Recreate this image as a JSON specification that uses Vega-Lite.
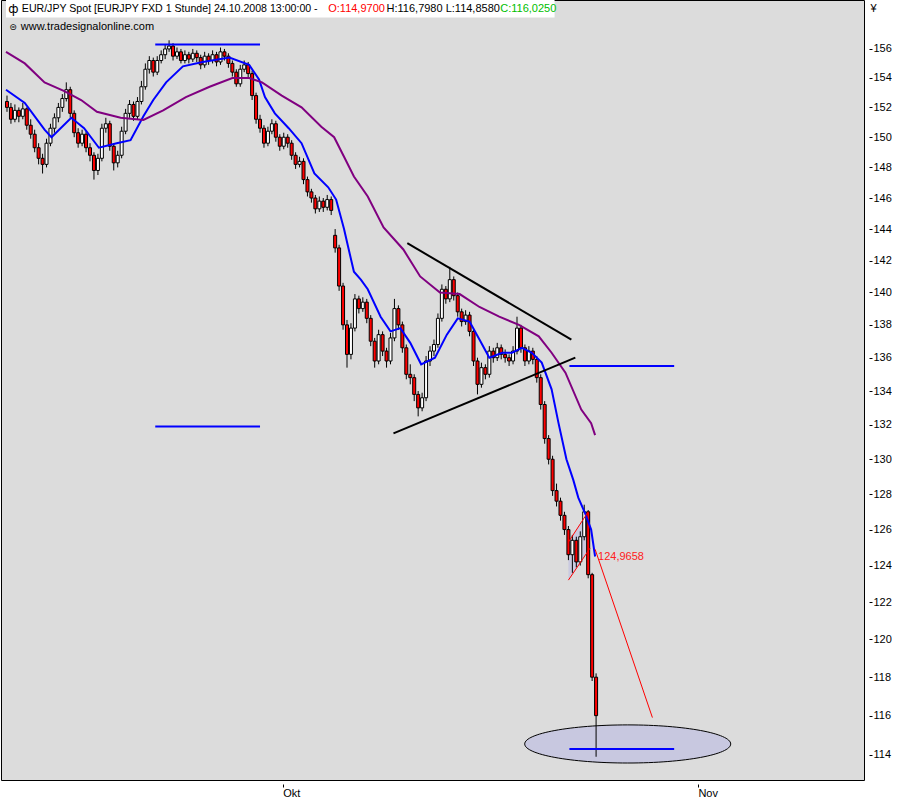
{
  "$schema": "https://vega.github.io/schema/vega-lite/v6.json",
  "width": 863,
  "height": 780,
  "padding": {"left": 1, "top": 0, "right": 0, "bottom": 0},
  "background": "white",
  "config": {"view": {"fill": "#dcdcdc", "stroke": "#000000", "strokeWidth": 1}, "font": "Liberation Sans"},
  "datasets": {
    "candles": [
      {"t":0,"o":152.4,"h":152.8,"l":151.7,"c":152.0},{"t":1,"o":152.0,"h":152.3,"l":150.9,"c":151.2},{"t":2,"o":151.2,"h":152.2,"l":151.0,"c":151.8},{"t":3,"o":151.8,"h":152.0,"l":151.0,"c":151.4},{"t":4,"o":151.4,"h":152.3,"l":151.2,"c":151.9},
      {"t":5,"o":151.9,"h":152.0,"l":150.5,"c":150.8},{"t":6,"o":150.8,"h":151.2,"l":149.9,"c":150.2},{"t":7,"o":150.2,"h":150.5,"l":149.0,"c":149.3},{"t":8,"o":149.3,"h":149.6,"l":148.2,"c":148.6},{"t":9,"o":148.6,"h":148.9,"l":147.6,"c":148.2},
      {"t":10,"o":148.2,"h":149.9,"l":148.0,"c":149.6},{"t":11,"o":149.6,"h":150.9,"l":149.4,"c":150.6},{"t":12,"o":150.6,"h":151.6,"l":150.3,"c":151.3},{"t":13,"o":151.3,"h":152.3,"l":151.0,"c":152.0},{"t":14,"o":152.0,"h":152.9,"l":151.7,"c":152.6},
      {"t":15,"o":152.6,"h":153.7,"l":152.4,"c":153.2},{"t":16,"o":153.2,"h":153.4,"l":151.3,"c":151.6},{"t":17,"o":151.6,"h":151.8,"l":150.0,"c":150.3},{"t":18,"o":150.3,"h":150.6,"l":149.3,"c":149.6},{"t":19,"o":149.6,"h":150.5,"l":149.4,"c":150.2},
      {"t":20,"o":150.2,"h":150.4,"l":149.0,"c":149.3},{"t":21,"o":149.3,"h":149.6,"l":148.4,"c":148.8},{"t":22,"o":148.8,"h":149.0,"l":147.2,"c":147.8},{"t":23,"o":147.8,"h":148.9,"l":147.5,"c":148.6},{"t":24,"o":148.6,"h":150.9,"l":148.4,"c":150.6},
      {"t":25,"o":150.6,"h":151.3,"l":150.3,"c":150.9},{"t":26,"o":150.9,"h":151.1,"l":149.1,"c":149.4},{"t":27,"o":149.4,"h":149.6,"l":147.8,"c":148.3},{"t":28,"o":148.3,"h":149.1,"l":148.0,"c":148.8},{"t":29,"o":148.8,"h":150.7,"l":148.6,"c":150.4},
      {"t":30,"o":150.4,"h":151.9,"l":150.2,"c":151.6},{"t":31,"o":151.6,"h":152.5,"l":151.3,"c":152.2},{"t":32,"o":152.2,"h":152.4,"l":151.1,"c":151.4},{"t":33,"o":151.4,"h":152.7,"l":151.2,"c":152.4},{"t":34,"o":152.4,"h":153.8,"l":152.2,"c":153.4},
      {"t":35,"o":153.4,"h":155.0,"l":153.2,"c":154.6},{"t":36,"o":154.6,"h":155.5,"l":154.3,"c":155.2},{"t":37,"o":155.2,"h":155.4,"l":154.1,"c":154.4},{"t":38,"o":154.4,"h":155.5,"l":154.2,"c":155.2},{"t":39,"o":155.2,"h":155.9,"l":155.0,"c":155.6},
      {"t":40,"o":155.6,"h":156.3,"l":155.3,"c":156.0},{"t":41,"o":156.0,"h":156.6,"l":155.8,"c":156.2},{"t":42,"o":156.2,"h":156.4,"l":155.2,"c":155.5},{"t":43,"o":155.5,"h":156.1,"l":155.3,"c":155.8},{"t":44,"o":155.8,"h":156.0,"l":155.0,"c":155.2},
      {"t":45,"o":155.2,"h":155.9,"l":155.0,"c":155.6},{"t":46,"o":155.6,"h":155.8,"l":155.0,"c":155.3},{"t":47,"o":155.3,"h":156.0,"l":155.1,"c":155.7},{"t":48,"o":155.7,"h":155.9,"l":155.1,"c":155.4},{"t":49,"o":155.4,"h":155.6,"l":154.6,"c":154.9},
      {"t":50,"o":154.9,"h":155.8,"l":154.7,"c":155.5},{"t":51,"o":155.5,"h":155.7,"l":154.9,"c":155.2},{"t":52,"o":155.2,"h":155.9,"l":155.0,"c":155.6},{"t":53,"o":155.6,"h":155.8,"l":154.8,"c":155.1},{"t":54,"o":155.1,"h":156.1,"l":154.9,"c":155.8},
      {"t":55,"o":155.8,"h":156.0,"l":155.2,"c":155.5},{"t":56,"o":155.5,"h":155.7,"l":154.7,"c":155.0},{"t":57,"o":155.0,"h":155.2,"l":154.1,"c":154.4},{"t":58,"o":154.4,"h":154.6,"l":153.4,"c":153.6},{"t":59,"o":153.6,"h":154.9,"l":153.4,"c":154.6},
      {"t":60,"o":154.6,"h":155.2,"l":154.4,"c":154.9},{"t":61,"o":154.9,"h":155.1,"l":154.0,"c":154.3},{"t":62,"o":154.3,"h":154.5,"l":152.5,"c":152.8},{"t":63,"o":152.8,"h":153.0,"l":150.9,"c":151.2},{"t":64,"o":151.2,"h":151.5,"l":150.3,"c":150.6},
      {"t":65,"o":150.6,"h":150.8,"l":149.3,"c":149.6},{"t":66,"o":149.6,"h":150.7,"l":149.4,"c":150.4},{"t":67,"o":150.4,"h":151.2,"l":150.2,"c":150.9},{"t":68,"o":150.9,"h":151.1,"l":149.7,"c":150.0},{"t":69,"o":150.0,"h":150.2,"l":149.1,"c":149.4},
      {"t":70,"o":149.4,"h":150.3,"l":149.2,"c":150.0},{"t":71,"o":150.0,"h":150.2,"l":149.3,"c":149.6},{"t":72,"o":149.6,"h":149.8,"l":148.5,"c":148.8},{"t":73,"o":148.8,"h":149.0,"l":147.9,"c":148.2},{"t":74,"o":148.2,"h":148.7,"l":148.0,"c":148.4},
      {"t":75,"o":148.4,"h":148.6,"l":146.9,"c":147.2},{"t":76,"o":147.2,"h":147.4,"l":146.1,"c":146.4},{"t":77,"o":146.4,"h":146.6,"l":145.7,"c":146.0},{"t":78,"o":146.0,"h":146.2,"l":145.0,"c":145.3},{"t":79,"o":145.3,"h":146.1,"l":145.1,"c":145.8},
      {"t":80,"o":145.8,"h":146.0,"l":145.1,"c":145.4},{"t":81,"o":145.4,"h":146.2,"l":145.2,"c":145.9},{"t":82,"o":145.9,"h":146.1,"l":144.9,"c":145.2},{"t":83,"o":143.6,"h":144.0,"l":142.5,"c":142.8},{"t":84,"o":142.8,"h":143.0,"l":140.1,"c":140.4},
      {"t":85,"o":140.4,"h":140.6,"l":137.7,"c":138.0},{"t":86,"o":138.0,"h":138.3,"l":135.4,"c":136.2},{"t":87,"o":136.2,"h":138.1,"l":135.9,"c":137.8},{"t":88,"o":137.8,"h":139.9,"l":137.6,"c":139.6},{"t":89,"o":139.6,"h":139.8,"l":138.7,"c":139.0},
      {"t":90,"o":139.0,"h":139.7,"l":138.8,"c":139.4},{"t":91,"o":139.4,"h":139.6,"l":138.1,"c":138.4},{"t":92,"o":138.4,"h":138.6,"l":136.7,"c":137.0},{"t":93,"o":137.0,"h":137.2,"l":135.4,"c":135.8},{"t":94,"o":135.8,"h":137.7,"l":135.6,"c":137.4},
      {"t":95,"o":137.4,"h":137.6,"l":136.1,"c":136.4},{"t":96,"o":136.4,"h":136.6,"l":135.4,"c":135.8},{"t":97,"o":135.8,"h":137.5,"l":135.6,"c":137.2},{"t":98,"o":137.2,"h":139.6,"l":137.0,"c":139.0},{"t":99,"o":139.0,"h":139.2,"l":137.7,"c":138.0},
      {"t":100,"o":138.0,"h":138.2,"l":136.3,"c":136.6},{"t":101,"o":136.6,"h":136.8,"l":134.7,"c":135.0},{"t":102,"o":135.0,"h":135.6,"l":134.4,"c":134.8},{"t":103,"o":134.8,"h":135.0,"l":133.4,"c":133.8},{"t":104,"o":133.8,"h":134.0,"l":132.5,"c":133.0},
      {"t":105,"o":133.0,"h":133.9,"l":132.8,"c":133.6},{"t":106,"o":133.6,"h":136.1,"l":133.4,"c":135.8},{"t":107,"o":135.8,"h":136.7,"l":135.5,"c":136.4},{"t":108,"o":136.4,"h":137.1,"l":136.1,"c":136.8},{"t":109,"o":136.8,"h":138.7,"l":136.6,"c":138.4},
      {"t":110,"o":138.4,"h":140.5,"l":138.2,"c":140.2},{"t":111,"o":140.2,"h":140.4,"l":139.3,"c":139.6},{"t":112,"o":139.6,"h":141.6,"l":139.4,"c":140.8},{"t":113,"o":140.8,"h":141.0,"l":139.5,"c":139.8},{"t":114,"o":139.8,"h":140.0,"l":138.5,"c":138.8},
      {"t":115,"o":138.8,"h":139.0,"l":137.9,"c":138.2},{"t":116,"o":138.2,"h":138.9,"l":138.0,"c":138.6},{"t":117,"o":138.6,"h":138.8,"l":137.3,"c":137.6},{"t":118,"o":137.6,"h":137.8,"l":135.5,"c":135.8},{"t":119,"o":135.8,"h":136.0,"l":133.8,"c":134.4},
      {"t":120,"o":134.4,"h":135.7,"l":134.2,"c":135.4},{"t":121,"o":135.4,"h":135.6,"l":134.7,"c":135.0},{"t":122,"o":135.0,"h":136.7,"l":134.8,"c":136.4},{"t":123,"o":136.4,"h":136.6,"l":135.7,"c":136.0},{"t":124,"o":136.0,"h":136.9,"l":135.8,"c":136.6},
      {"t":125,"o":136.6,"h":136.8,"l":135.9,"c":136.2},{"t":126,"o":136.2,"h":136.5,"l":135.7,"c":136.0},{"t":127,"o":136.0,"h":136.2,"l":135.5,"c":135.8},{"t":128,"o":135.8,"h":136.7,"l":135.6,"c":136.4},{"t":129,"o":136.4,"h":138.5,"l":136.2,"c":137.8},
      {"t":130,"o":137.8,"h":138.0,"l":136.3,"c":136.6},{"t":131,"o":136.6,"h":136.8,"l":135.5,"c":135.8},{"t":132,"o":135.8,"h":136.7,"l":135.6,"c":136.4},{"t":133,"o":136.4,"h":136.6,"l":135.6,"c":135.9},{"t":134,"o":135.9,"h":136.1,"l":134.5,"c":134.8},
      {"t":135,"o":134.8,"h":135.0,"l":132.9,"c":133.2},{"t":136,"o":133.2,"h":133.4,"l":130.9,"c":131.2},{"t":137,"o":131.2,"h":131.4,"l":129.7,"c":130.0},{"t":138,"o":130.0,"h":130.2,"l":127.9,"c":128.2},{"t":139,"o":128.2,"h":128.6,"l":127.3,"c":127.6},
      {"t":140,"o":127.6,"h":127.8,"l":126.5,"c":126.8},{"t":141,"o":126.8,"h":127.0,"l":125.7,"c":126.0},{"t":142,"o":126.0,"h":126.2,"l":124.3,"c":124.6},{"t":143,"o":124.6,"h":125.7,"l":123.6,"c":125.4},{"t":144,"o":125.4,"h":125.6,"l":123.9,"c":124.2},
      {"t":145,"o":124.2,"h":125.9,"l":124.0,"c":125.6},{"t":146,"o":125.6,"h":127.4,"l":125.4,"c":127.0},{"t":147,"o":127.0,"h":127.1,"l":123.3,"c":123.5},{"t":148,"o":123.5,"h":123.6,"l":117.8,"c":118.0},{"t":149,"o":118.0,"h":118.2,"l":113.9,"c":116.0}
    ],
    "ma": [
      {"t":-0.25,"v":153.2,"s":"MA kurz"},{"t":4.5,"v":152.3,"s":"MA kurz"},{"t":9.5,"v":150.5,"s":"MA kurz"},{"t":11.25,"v":150.0,"s":"MA kurz"},{"t":16.25,"v":151.3,"s":"MA kurz"},{"t":19.5,"v":150.6,"s":"MA kurz"},{"t":23.25,"v":149.3,"s":"MA kurz"},{"t":27.75,"v":149.6,"s":"MA kurz"},{"t":31.25,"v":149.8,"s":"MA kurz"},{"t":34.5,"v":151.4,"s":"MA kurz"},{"t":37,"v":152.5,"s":"MA kurz"},{"t":40.25,"v":153.7,"s":"MA kurz"},{"t":44.5,"v":154.8,"s":"MA kurz"},{"t":49.5,"v":155.1,"s":"MA kurz"},{"t":56.25,"v":155.4,"s":"MA kurz"},{"t":61.25,"v":154.9,"s":"MA kurz"},{"t":63.75,"v":153.9,"s":"MA kurz"},{"t":65.25,"v":152.7,"s":"MA kurz"},{"t":67.75,"v":151.6,"s":"MA kurz"},{"t":71.25,"v":150.6,"s":"MA kurz"},{"t":74.5,"v":149.6,"s":"MA kurz"},{"t":77.75,"v":147.6,"s":"MA kurz"},{"t":81.25,"v":146.7,"s":"MA kurz"},{"t":83.25,"v":145.9,"s":"MA kurz"},{"t":85.25,"v":144.0,"s":"MA kurz"},{"t":86.25,"v":142.9,"s":"MA kurz"},{"t":87.75,"v":141.3,"s":"MA kurz"},{"t":89.5,"v":140.8,"s":"MA kurz"},{"t":91.25,"v":140.2,"s":"MA kurz"},{"t":94.5,"v":138.5,"s":"MA kurz"},{"t":97,"v":137.6,"s":"MA kurz"},{"t":99.5,"v":137.8,"s":"MA kurz"},{"t":102,"v":136.9,"s":"MA kurz"},{"t":104.75,"v":135.6,"s":"MA kurz"},{"t":108.25,"v":136.0,"s":"MA kurz"},{"t":111.25,"v":137.4,"s":"MA kurz"},{"t":114,"v":138.4,"s":"MA kurz"},{"t":117,"v":138.2,"s":"MA kurz"},{"t":119.5,"v":137.1,"s":"MA kurz"},{"t":122,"v":136.0,"s":"MA kurz"},{"t":125.25,"v":136.3,"s":"MA kurz"},{"t":127.75,"v":136.3,"s":"MA kurz"},{"t":130.25,"v":136.6,"s":"MA kurz"},{"t":132.75,"v":136.3,"s":"MA kurz"},{"t":135.25,"v":135.7,"s":"MA kurz"},{"t":137.75,"v":134.1,"s":"MA kurz"},{"t":139.5,"v":132.1,"s":"MA kurz"},{"t":141.5,"v":130.0,"s":"MA kurz"},{"t":143.25,"v":128.8,"s":"MA kurz"},{"t":144.5,"v":127.8,"s":"MA kurz"},{"t":146.25,"v":126.9,"s":"MA kurz"},{"t":147.75,"v":126.0,"s":"MA kurz"},{"t":148.75,"v":124.5,"s":"MA kurz"},
      {"t":-0.25,"v":155.8,"s":"MA lang"},{"t":4.5,"v":155.0,"s":"MA lang"},{"t":9.5,"v":153.7,"s":"MA lang"},{"t":14.5,"v":153.1,"s":"MA lang"},{"t":18.75,"v":152.5,"s":"MA lang"},{"t":22.75,"v":151.7,"s":"MA lang"},{"t":28.75,"v":151.3,"s":"MA lang"},{"t":34.5,"v":151.15,"s":"MA lang"},{"t":39.5,"v":151.8,"s":"MA lang"},{"t":45.25,"v":152.7,"s":"MA lang"},{"t":51.25,"v":153.4,"s":"MA lang"},{"t":57,"v":154.0,"s":"MA lang"},{"t":61.25,"v":154.0,"s":"MA lang"},{"t":64.5,"v":153.7,"s":"MA lang"},{"t":69.5,"v":152.8,"s":"MA lang"},{"t":74.5,"v":152.0,"s":"MA lang"},{"t":79.5,"v":150.7,"s":"MA lang"},{"t":82.75,"v":150.0,"s":"MA lang"},{"t":85.25,"v":148.7,"s":"MA lang"},{"t":87.75,"v":147.4,"s":"MA lang"},{"t":91.25,"v":146.1,"s":"MA lang"},{"t":95.25,"v":144.1,"s":"MA lang"},{"t":100.25,"v":142.7,"s":"MA lang"},{"t":104.5,"v":141.0,"s":"MA lang"},{"t":109.5,"v":140.0,"s":"MA lang"},{"t":114.5,"v":139.9,"s":"MA lang"},{"t":119.5,"v":139.1,"s":"MA lang"},{"t":124.5,"v":138.5,"s":"MA lang"},{"t":129.5,"v":138.0,"s":"MA lang"},{"t":134.5,"v":137.3,"s":"MA lang"},{"t":137.75,"v":136.3,"s":"MA lang"},{"t":141.25,"v":135.1,"s":"MA lang"},{"t":145.25,"v":132.9,"s":"MA lang"},{"t":147.75,"v":132.1,"s":"MA lang"},{"t":148.75,"v":131.4,"s":"MA lang"}
    ],
    "seg": [
      {"t":37.5,"v":156.3,"t2":64,"v2":156.3,"k":"Level"},
      {"t":37.5,"v":131.9,"t2":64,"v2":131.9,"k":"Level"},
      {"t":142.25,"v":135.5,"t2":168.75,"v2":135.5,"k":"Level"},
      {"t":142.25,"v":114.3,"t2":168.75,"v2":114.3,"k":"Level"},
      {"t":101.25,"v":143.1,"t2":142.75,"v2":137.1,"k":"Trend"},
      {"t":97.75,"v":131.5,"t2":143.75,"v2":136.0,"k":"Trend"}
    ],
    "proj": [
      {"t":142,"v":125.3,"t2":147,"v2":127.0},
      {"t":142,"v":123.2,"t2":147.5,"v2":124.97},
      {"t":148.75,"v":124.9,"t2":163.25,"v2":115.9}
    ],
    "chan": [
      {"t":142,"lo":123.2,"hi":125.3},
      {"t":147.5,"lo":124.97,"hi":127.1}
    ],
    "zone": [{"t":157,"v":114.55}],
    "one": [{}]
  },
  "layer": [
    {
      "data": {"name": "candles"},
      "mark": {"type": "rule", "color": "#000000", "strokeWidth": 1, "opacity": 0},
      "encoding": {
        "x": {"field": "t", "type": "quantitative", "scale": {"domain": [-0.25, 215.5], "nice": false, "zero": false},
          "axis": {"values": [69.75, 174.75], "labelExpr": "datum.value < 100 ? 'Okt' : 'Nov'", "title": null, "domain": false, "grid": false, "offset": 4, "tickSize": 3, "tickColor": "#000000", "labelAlign": "left", "labelPadding": 0, "labelFontSize": 11, "labelColor": "#000000", "labelFont": "Liberation Sans", "labelFlush": false, "labelDx": 1}},
        "y": {"field": "l", "type": "quantitative", "scale": {"type": "log", "domain": [112.73, 159.43], "nice": false},
          "axis": {"orient": "right", "values": [114,116,118,120,122,124,126,128,130,132,134,136,138,140,142,144,146,148,150,152,154,156], "labelExpr": "'' + datum.value", "title": "¥", "titleAngle": 0, "titleAlign": "left", "titleBaseline": "top", "titleX": 1, "titleY": 2, "titleFontWeight": "normal", "titleFontSize": 11, "titleFont": "Liberation Sans", "titleColor": "#000000", "domain": false, "grid": false, "offset": 5, "tickSize": 3, "tickColor": "#000000", "labelPadding": 1, "labelFontSize": 11, "labelColor": "#000000", "labelFont": "Liberation Sans", "labelBaseline": "middle", "labelFlush": false}},
        "y2": {"field": "h"}
      }
    },
    {
      "data": {"name": "zone"},
      "mark": {"type": "point", "shape": "M -1 0 A 1 0.185 0 1 1 1 0 A 1 0.185 0 1 1 -1 0 Z", "size": 42436, "filled": true, "fill": "#c8c8e0", "stroke": "#000000", "strokeWidth": 1, "opacity": 1, "fillOpacity": 1},
      "encoding": {
        "x": {"field": "t", "type": "quantitative", "scale": {"domain": [-0.25, 215.5], "nice": false, "zero": false}},
        "y": {"field": "v", "type": "quantitative", "scale": {"type": "log", "domain": [112.73, 159.43], "nice": false}}
      }
    },
    {
      "data": {"name": "chan"},
      "mark": {"type": "area", "color": "#c8c8e0", "opacity": 0.9},
      "encoding": {
        "x": {"field": "t", "type": "quantitative", "scale": {"domain": [-0.25, 215.5], "nice": false, "zero": false}},
        "y": {"field": "lo", "type": "quantitative", "scale": {"type": "log", "domain": [112.73, 159.43], "nice": false}},
        "y2": {"field": "hi"}
      }
    },
    {
      "data": {"name": "candles"},
      "mark": {"type": "rule", "color": "#000000", "strokeWidth": 1},
      "encoding": {
        "x": {"field": "t", "type": "quantitative", "scale": {"domain": [-0.25, 215.5], "nice": false, "zero": false}},
        "y": {"field": "l", "type": "quantitative", "scale": {"type": "log", "domain": [112.73, 159.43], "nice": false}},
        "y2": {"field": "h"}
      }
    },
    {
      "data": {"name": "candles"},
      "mark": {"type": "bar", "width": 3, "stroke": "#000000", "strokeWidth": 1},
      "encoding": {
        "x": {"field": "t", "type": "quantitative", "scale": {"domain": [-0.25, 215.5], "nice": false, "zero": false}},
        "y": {"field": "o", "type": "quantitative", "scale": {"type": "log", "domain": [112.73, 159.43], "nice": false}},
        "y2": {"field": "c"},
        "fill": {"condition": {"test": "datum.c < datum.o", "value": "#ff0000"}, "value": "#ffffff"}
      }
    },
    {
      "data": {"name": "ma"},
      "mark": {"type": "line", "strokeWidth": 2},
      "encoding": {
        "x": {"field": "t", "type": "quantitative", "scale": {"domain": [-0.25, 215.5], "nice": false, "zero": false}},
        "y": {"field": "v", "type": "quantitative", "scale": {"type": "log", "domain": [112.73, 159.43], "nice": false}},
        "color": {"field": "s", "type": "nominal", "scale": {"domain": ["MA kurz", "MA lang", "Level", "Trend"], "range": ["#0000ff", "#800080", "#0000ff", "#000000"]}, "legend": null}
      }
    },
    {
      "data": {"name": "seg"},
      "mark": {"type": "rule", "strokeWidth": 2},
      "encoding": {
        "x": {"field": "t", "type": "quantitative", "scale": {"domain": [-0.25, 215.5], "nice": false, "zero": false}},
        "y": {"field": "v", "type": "quantitative", "scale": {"type": "log", "domain": [112.73, 159.43], "nice": false}},
        "x2": {"field": "t2"},
        "y2": {"field": "v2"},
        "color": {"field": "k", "type": "nominal", "scale": {"domain": ["MA kurz", "MA lang", "Level", "Trend"], "range": ["#0000ff", "#800080", "#0000ff", "#000000"]}, "legend": null}
      }
    },
    {
      "data": {"name": "proj"},
      "mark": {"type": "rule", "strokeWidth": 1, "color": "#ff0000"},
      "encoding": {
        "x": {"field": "t", "type": "quantitative", "scale": {"domain": [-0.25, 215.5], "nice": false, "zero": false}},
        "y": {"field": "v", "type": "quantitative", "scale": {"type": "log", "domain": [112.73, 159.43], "nice": false}},
        "x2": {"field": "t2"},
        "y2": {"field": "v2"}
      }
    },
    {
      "data": {"name": "one"},
      "mark": {"type": "text", "text": "124,9658", "align": "left", "baseline": "middle", "fontSize": 11, "font": "Liberation Sans", "color": "#ff2020"},
      "encoding": {
        "x": {"datum": 149.5, "type": "quantitative", "scale": {"domain": [-0.25, 215.5], "nice": false, "zero": false}},
        "y": {"datum": 124.45, "type": "quantitative", "scale": {"type": "log", "domain": [112.73, 159.43], "nice": false}}
      }
    },
    {
      "data": {"name": "one"},
      "mark": {"type": "rect", "fill": "#ffffff"},
      "encoding": {
        "x": {"datum": -0.25, "type": "quantitative", "scale": {"domain": [-0.25, 215.5], "nice": false, "zero": false}},
        "x2": {"datum": 138.5},
        "y": {"datum": 159.43, "type": "quantitative", "scale": {"type": "log", "domain": [112.73, 159.43], "nice": false}},
        "y2": {"datum": 158.2}
      }
    },
    {
      "data": {"name": "one"},
      "mark": {"type": "text", "text": "ф", "align": "left", "baseline": "middle", "fontSize": 12, "font": "DejaVu Sans", "color": "#000000"},
      "encoding": {
        "x": {"datum": 0.3, "type": "quantitative", "scale": {"domain": [-0.25, 215.5], "nice": false, "zero": false}},
        "y": {"datum": 158.8, "type": "quantitative", "scale": {"type": "log", "domain": [112.73, 159.43], "nice": false}}
      }
    },
    {
      "data": {"name": "one"},
      "mark": {"type": "text", "text": "EUR/JPY Spot [EURJPY FXD  1 Stunde] 24.10.2008 13:00:00 -", "align": "left", "baseline": "middle", "fontSize": 10.6, "font": "Liberation Sans", "color": "#000000"},
      "encoding": {
        "x": {"datum": 3.75, "type": "quantitative", "scale": {"domain": [-0.25, 215.5], "nice": false, "zero": false}},
        "y": {"datum": 158.8, "type": "quantitative", "scale": {"type": "log", "domain": [112.73, 159.43], "nice": false}}
      }
    },
    {
      "data": {"name": "one"},
      "mark": {"type": "text", "text": "O:114,9700", "align": "left", "baseline": "middle", "fontSize": 11, "font": "Liberation Sans", "color": "#ff0000"},
      "encoding": {
        "x": {"datum": 81.25, "type": "quantitative", "scale": {"domain": [-0.25, 215.5], "nice": false, "zero": false}},
        "y": {"datum": 158.8, "type": "quantitative", "scale": {"type": "log", "domain": [112.73, 159.43], "nice": false}}
      }
    },
    {
      "data": {"name": "one"},
      "mark": {"type": "text", "text": "H:116,7980 L:114,8580", "align": "left", "baseline": "middle", "fontSize": 11, "font": "Liberation Sans", "color": "#000000"},
      "encoding": {
        "x": {"datum": 96.0, "type": "quantitative", "scale": {"domain": [-0.25, 215.5], "nice": false, "zero": false}},
        "y": {"datum": 158.8, "type": "quantitative", "scale": {"type": "log", "domain": [112.73, 159.43], "nice": false}}
      }
    },
    {
      "data": {"name": "one"},
      "mark": {"type": "text", "text": "C:116,0250", "align": "left", "baseline": "middle", "fontSize": 11, "font": "Liberation Sans", "color": "#00c000"},
      "encoding": {
        "x": {"datum": 124.75, "type": "quantitative", "scale": {"domain": [-0.25, 215.5], "nice": false, "zero": false}},
        "y": {"datum": 158.8, "type": "quantitative", "scale": {"type": "log", "domain": [112.73, 159.43], "nice": false}}
      }
    },
    {
      "data": {"name": "one"},
      "mark": {"type": "text", "text": "⊜", "align": "left", "baseline": "middle", "fontSize": 9, "font": "DejaVu Sans", "color": "#000000"},
      "encoding": {
        "x": {"datum": 0.6, "type": "quantitative", "scale": {"domain": [-0.25, 215.5], "nice": false, "zero": false}},
        "y": {"datum": 157.5, "type": "quantitative", "scale": {"type": "log", "domain": [112.73, 159.43], "nice": false}}
      }
    },
    {
      "data": {"name": "one"},
      "mark": {"type": "text", "text": "www.tradesignalonline.com", "align": "left", "baseline": "middle", "fontSize": 11, "font": "Liberation Sans", "color": "#000000"},
      "encoding": {
        "x": {"datum": 3.5, "type": "quantitative", "scale": {"domain": [-0.25, 215.5], "nice": false, "zero": false}},
        "y": {"datum": 157.5, "type": "quantitative", "scale": {"type": "log", "domain": [112.73, 159.43], "nice": false}}
      }
    }
  ]
}
